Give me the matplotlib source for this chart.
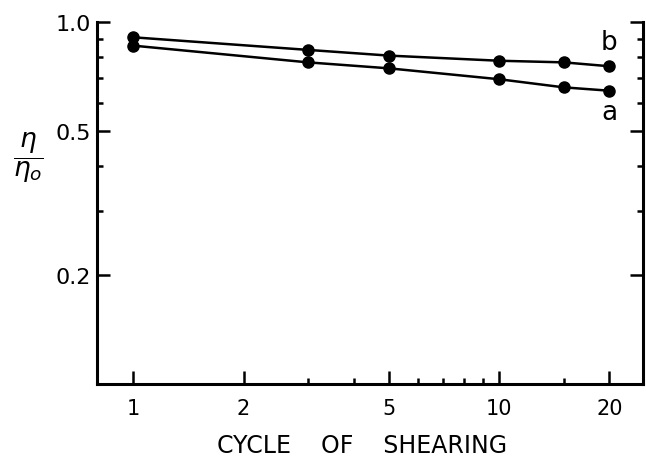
import matplotlib
matplotlib.use("Agg")
import matplotlib.pyplot as plt
from matplotlib.ticker import FixedLocator, NullFormatter

# cycle of shearing and relative viscosity eta/eta_o
cycles = [1, 3, 5, 10, 15, 20]
eta_a = [0.862, 0.775, 0.746, 0.696, 0.661, 0.647]
eta_b = [0.909, 0.839, 0.809, 0.783, 0.775, 0.756]

x_major = [1, 2, 5, 10, 20]
x_minor = [3, 4, 6, 7, 8, 9, 15]
y_major = [0.2, 0.5, 1.0]
y_labels = ["0.2", "0.5", "1.0"]
y_minor = [0.3, 0.4, 0.6, 0.7, 0.8, 0.9]

fig = plt.figure(figsize=(6.46, 4.6), dpi=100)
ax = fig.add_axes([0.1497, 0.163, 0.8457, 0.7863])

ax.plot(cycles, eta_b, "-o", color="black", lw=1.8, ms=8)
ax.plot(cycles, eta_a, "-o", color="black", lw=1.8, ms=8)

ax.set_xscale("log")
ax.set_yscale("log")
ax.set_xlim(0.794, 24.7)
ax.set_ylim(0.1, 1.0)

ax.xaxis.set_major_locator(FixedLocator(x_major))
ax.xaxis.set_minor_locator(FixedLocator(x_minor))
ax.set_xticklabels([str(v) for v in x_major])
ax.xaxis.set_minor_formatter(NullFormatter())

ax.yaxis.set_major_locator(FixedLocator(y_major))
ax.yaxis.set_minor_locator(FixedLocator(y_minor))
ax.set_yticklabels(y_labels)
ax.yaxis.set_minor_formatter(NullFormatter())

ax.spines["top"].set_visible(False)
for s in ["left", "bottom", "right"]:
    ax.spines[s].set_linewidth(2.2)

ax.tick_params(which="both", direction="in", right=True, width=1.8)
ax.tick_params(which="major", length=9.5)
ax.tick_params(which="minor", length=4.5)
ax.tick_params(axis="x", which="major", pad=10, labelsize=15)
ax.tick_params(axis="y", which="major", pad=4, labelsize=16)

ax.set_xlabel("CYCLE    OF    SHEARING", fontsize=17)
ax.xaxis.set_label_coords(0.486, -0.135)

fig.text(28 / 646, 1 - 158 / 460, r"$\dfrac{\eta}{\eta_o}$", fontsize=19,
         ha="center", va="center")

ax.text(20, 0.882, "b", fontsize=19, ha="center", va="center")
ax.text(20, 0.565, "a", fontsize=19, ha="center", va="center")

fig.savefig("out.png", dpi=100)
